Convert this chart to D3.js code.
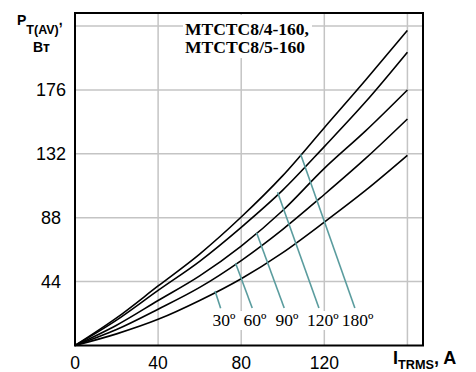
<!DOCTYPE html>
<html><head><meta charset="utf-8">
<script src="https://cdn.jsdelivr.net/npm/d3@7"></script>
<style>body{margin:0;background:#fff}svg{display:block}</style>
</head><body><svg id="c" width="476" height="372"></svg>
<script>
// Data
const currents = [0, 20, 40, 60, 80, 100, 120, 140, 160];
const angles = ["30º", "60º", "90º", "120º", "180º"];
const p30  = [0, 8, 18, 31, 46, 64, 85, 107, 131];
const p60  = [0, 11, 25, 40, 58.5, 80, 104, 129, 156];
const p90  = [0, 14, 31, 48, 68.5, 93, 122, 148, 176];
const p120 = [0, 17.5, 38, 58, 81.4, 107, 137, 168, 202];
const p180 = [0, 19, 41, 63, 88.5, 117, 150, 183, 217];
const seriesValues = [p30, p60, p90, p120, p180];
const xTicks = [0, 40, 80, 120];
const xGrid = [40, 80, 120, 160];
const yTicks = [44, 88, 132, 176];
const yGrid = [44, 88, 132, 176, 220];
// leader lines: point on curve -> label end (data units)
const leaderFromX = [67.4, 77.3, 87.4, 97.5, 108.6];
const leaderFromY = [37.5, 56.6, 77.7, 105.5, 131.7];
const leaderToX = [70.1, 85.3, 100.7, 117.4, 134.7];
const leaderToY = [25.6, 25.8, 25.8, 25.8, 25.8];
const labelX = [71.7, 86.6, 102, 119.3, 136];
const labelY = 13.4;
const titleLines = ["MTCTC8/4-160,", "MTCTC8/5-160"];

const svg = d3.select("#c");
const x = d3.scaleLinear().domain([0, 167.5]).range([75, 423]);
const y = d3.scaleLinear().domain([0, 229]).range([345.5, 13]);

// grid
svg.append("g").selectAll("line").data(xGrid).join("line")
  .attr("x1", d => x(d)).attr("x2", d => x(d)).attr("y1", y(229)).attr("y2", y(0))
  .attr("stroke", "#c4c4c4").attr("stroke-width", 1.5);
svg.append("g").selectAll("line").data(yGrid).join("line")
  .attr("y1", d => y(d)).attr("y2", d => y(d)).attr("x1", x(0)).attr("x2", x(167.5))
  .attr("stroke", "#c4c4c4").attr("stroke-width", 1.5);

// white boxes behind texts
svg.append("rect").attr("x", 183).attr("y", 15).attr("width", 129).attr("height", 43).attr("fill", "#fff");
svg.append("rect").attr("x", 208).attr("y", 311).attr("width", 168).attr("height", 19).attr("fill", "#fff");

// curves
const line = d3.line().x((d, i) => x(currents[i])).y(d => y(d)).curve(d3.curveMonotoneX);
svg.append("g").selectAll("path").data(seriesValues).join("path")
  .attr("d", d => line(d)).attr("fill", "none").attr("stroke", "#000").attr("stroke-width", 1.6);

// leaders
svg.append("g").selectAll("line").data(angles).join("line")
  .attr("x1", (d, i) => x(leaderFromX[i])).attr("y1", (d, i) => y(leaderFromY[i]))
  .attr("x2", (d, i) => x(leaderToX[i])).attr("y2", (d, i) => y(leaderToY[i]))
  .attr("stroke", "#5a9c9e").attr("stroke-width", 1.6);

svg.append("g").selectAll("text").data(angles).join("text")
  .attr("x", (d, i) => x(labelX[i])).attr("y", y(labelY))
  .attr("text-anchor", "middle").attr("font-family", "Liberation Serif, serif")
  .attr("font-size", 17.5).attr("fill", "#000").text(d => d);

// title
svg.append("g").selectAll("text").data(titleLines).join("text")
  .attr("x", 185).attr("y", (d, i) => 35 + i * 18.3)
  .attr("font-family", "Liberation Serif, serif").attr("font-weight", "bold")
  .attr("font-size", 16).attr("textLength", (d, i) => i ? 120 : 124)
  .attr("lengthAdjust", "spacingAndGlyphs").text(d => d);

// frame
svg.append("rect").attr("x", x(0)).attr("y", y(229)).attr("width", x(167.5) - x(0)).attr("height", y(0) - y(229))
  .attr("fill", "none").attr("stroke", "#000").attr("stroke-width", 2);

// tick labels
svg.append("g").selectAll("text").data(yTicks).join("text")
  .attr("x", 51).attr("y", d => y(d)).attr("dy", "0.36em").attr("text-anchor", "middle")
  .attr("font-family", "Liberation Sans, Arial, sans-serif").attr("font-size", 18).text(d => d);
svg.append("g").selectAll("text").data(xTicks).join("text")
  .attr("x", d => x(d)).attr("y", 369).attr("text-anchor", "middle")
  .attr("font-family", "Liberation Sans, Arial, sans-serif").attr("font-size", 17.5).text(d => d);

// axis titles
const yt = svg.append("text").attr("x", 17).attr("y", 25)
  .attr("font-family", "Liberation Sans, Arial, sans-serif").attr("font-weight", "bold").attr("font-size", 14);
yt.append("tspan").text("P");
yt.append("tspan").attr("font-size", 12.5).attr("dy", 9).text("T(AV)");
yt.append("tspan").attr("dy", -9).text(",");
svg.append("text").attr("x", 41.5).attr("y", 52).attr("text-anchor", "middle")
  .attr("font-family", "Liberation Sans, Arial, sans-serif").attr("font-weight", "bold").attr("font-size", 14).text("Вт");

const xt = svg.append("text").attr("x", 393).attr("y", 364)
  .attr("font-family", "Liberation Sans, Arial, sans-serif").attr("font-weight", "bold").attr("font-size", 18);
xt.append("tspan").text("I");
xt.append("tspan").attr("font-size", 12.7).attr("dy", 5).text("TRMS");
xt.append("tspan").attr("dy", -5).text(", A");
</script></body></html>
